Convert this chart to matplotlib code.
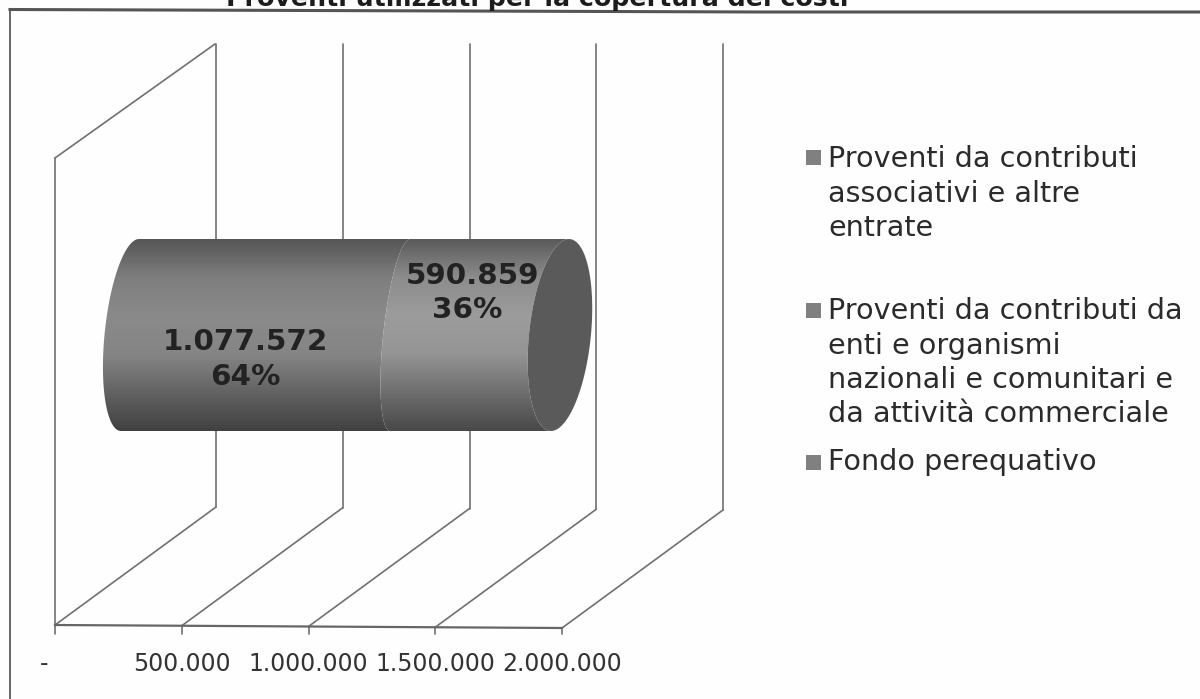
import numpy as np
import matplotlib
matplotlib.use('Agg')
import matplotlib.pyplot as plt
from matplotlib.colors import LinearSegmentedColormap
from matplotlib.patches import Polygon, Rectangle

title = 'Proventi utilizzati per la copertura dei costi'
series_values = [1077572, 590859]
series_shares = ['64%', '36%']
series_labels = ['1.077.572', '590.859']
axis_ticks = [0, 500000, 1000000, 1500000, 2000000]
tick_labels = ['-', '500.000', '1.000.000', '1.500.000', '2.000.000']
legend_labels = [
    ['Proventi da contributi', 'associativi e altre', 'entrate'],
    ['Proventi da contributi da', 'enti e organismi', 'nazionali e comunitari e', 'da attività commerciale'],
    ['Fondo perequativo'],
]

W, H = 1200, 699
PX_PER_UNIT = 507 / 2000000
X0 = 55


def val_x(v):
    # value on the axis -> x in pixels
    return X0 + v * PX_PER_UNIT


def ellipse(cx, a, skew, cy=335, b=96, t0=0, t1=2 * np.pi):
    t = np.linspace(t0, t1, 120)
    return cx + a * np.cos(t) + skew * np.sin(t), cy - b * np.sin(t)


fig = plt.figure(figsize=(W / 100, H / 100), dpi=100, facecolor='#fefefe')
ax = fig.add_axes([0, 0, 1, 1])
ax.set_xlim(0, W)
ax.set_ylim(H, 0)
ax.axis('off')

# outer frame, the page crops it on the right and at the bottom
ax.plot([10, 10], [10, H], color='#666666', lw=1.4)
ax.plot([10, 760, W], [9.5, 12, 12], color='#555555', lw=2.2)
# the scan cuts the top of the title off, same as here
ax.text(537, 6, title, ha='center', va='baseline', fontsize=18.2, fontweight='bold',
        color='#1c1c1c', family='DejaVu Sans')

# walls and floor of the 3d box
line = dict(color='#707070', lw=1.2, solid_capstyle='round')
depth_x, depth_y = 161, 118
ax.plot([X0, X0], [158, 625], **line)
ax.plot([X0, X0 + 160], [158, 44], **line)
for v in axis_ticks:
    x = val_x(v)
    front = 625 + 3 * v / axis_ticks[-1]
    ax.plot([x, x], [front, 634], **line)
    ax.plot([x, x + depth_x], [front, front - depth_y], **line)
    ax.plot([x + depth_x, x + depth_x], [44, front - depth_y], **line)
ax.plot([val_x(0), val_x(2000000)], [625, 628], color='#666666', lw=1.6)

for v, lab in zip(axis_ticks, tick_labels):
    ax.text(val_x(v) + (0 if v else -11), 664, lab, ha='center', va='center', fontsize=17,
            color='#333333', family='DejaVu Sans')

# cylinder, one gradient for each segment
bar_start = 103
dark = LinearSegmentedColormap.from_list('d', ['#555555', '#7e7e7e', '#8a8a8a', '#858585', '#626262', '#404040'])
light = LinearSegmentedColormap.from_list('l', ['#5a5a5a', '#8c8c8c', '#9c9c9c', '#949494', '#6e6e6e', '#484848'])
grad = np.linspace(0, 1, 200).reshape(-1, 1)

left_end = bar_start + series_values[0] * PX_PER_UNIT + 4
right_end = bar_start + sum(series_values) * PX_PER_UNIT + 2

lx, ly = ellipse(130, 25.5, 9, t0=np.pi / 2, t1=3 * np.pi / 2)
mx, my = ellipse(left_end + 20, 17, 10, t0=np.pi / 2, t1=3 * np.pi / 2)
rx, ry = ellipse(right_end + 32, 31, 9, t0=np.pi / 2, t1=3 * np.pi / 2)

segments = [
    (np.r_[lx, mx[::-1]], np.r_[ly, my[::-1]], dark),
    (np.r_[mx, rx[::-1]], np.r_[my, ry[::-1]], light),
]
for xs, ys, cmap in segments:
    poly = Polygon(np.c_[xs, ys], closed=True, fc='none', ec='none', transform=ax.transData)
    ax.add_patch(poly)
    im = ax.imshow(grad, extent=[90, 600, 432, 238], cmap=cmap, aspect='auto', zorder=3)
    im.set_clip_path(poly)

cx, cy = ellipse(right_end + 32, 31, 9)
ax.fill(cx, cy, color='#5a5a5a', zorder=4, lw=0)
ax.set_xlim(0, W)
ax.set_ylim(H, 0)

label_font = dict(ha='center', va='center', fontsize=21.2, fontweight='bold',
                  color='#222222', family='DejaVu Sans', zorder=5)
ax.text(245, 342, series_labels[0], **label_font)
ax.text(245, 377, series_shares[0], **label_font)
ax.text(473, 276, series_labels[1], **label_font)
ax.text(467, 310, series_shares[1], **label_font)

# legend
legend_marks = [157, 310, 462]
legend_base = [167, 319, 470]
for y, base, lines in zip(legend_marks, legend_base, legend_labels):
    ax.add_patch(Rectangle((806, y - 7.5), 15, 15, fc='#808080', ec='none'))
    for i, lab in enumerate(lines):
        ax.text(828, base + i * 34.5, lab, ha='left', va='baseline', fontsize=20.6,
                color='#2b2b2b', family='DejaVu Sans')

fig.savefig('out.png', dpi=100, facecolor=fig.get_facecolor())
